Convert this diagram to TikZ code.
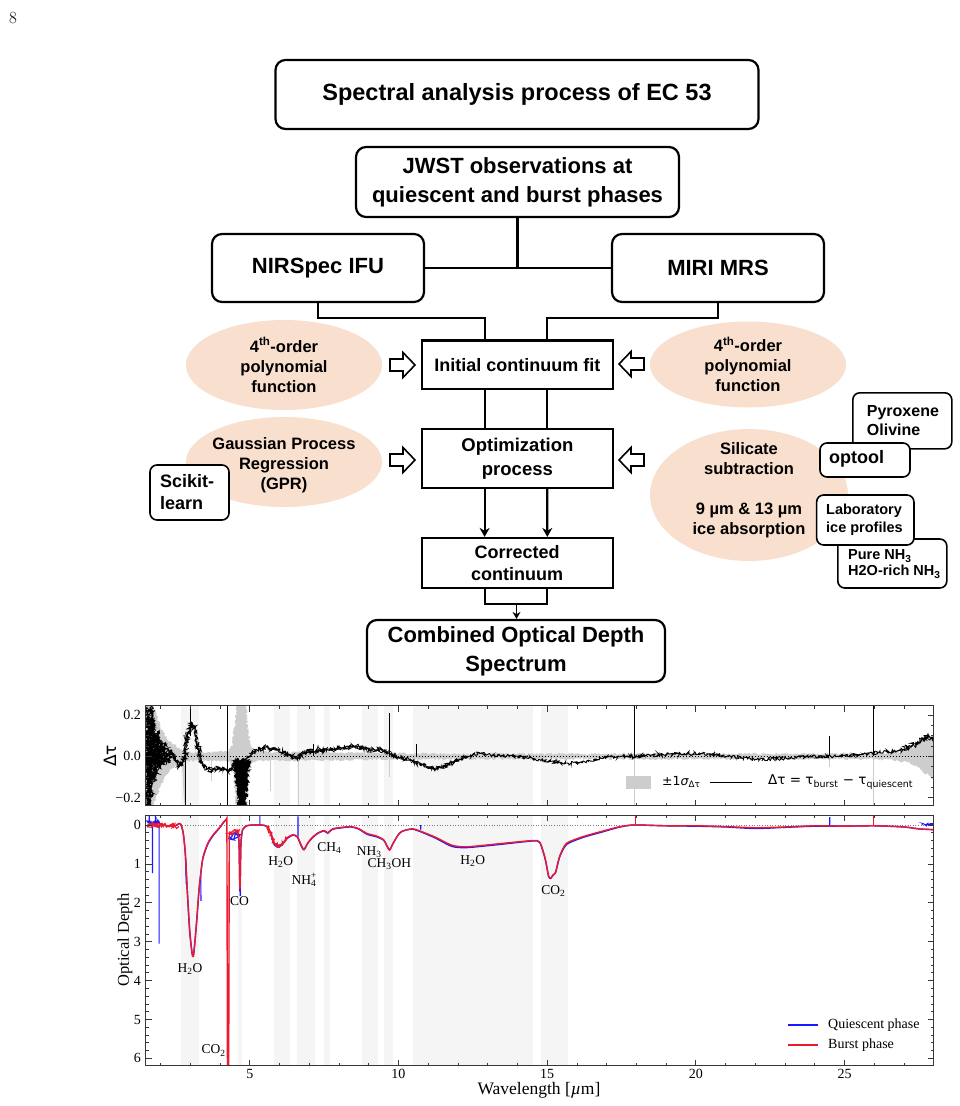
\documentclass[tikz,border=0pt]{standalone}
\usepackage{fontspec}
\newfontfamily\sfb{Liberation Sans}
\newfontfamily\tms{Liberation Serif}
\newfontfamily\dejavu{DejaVu Sans}
\usetikzlibrary{shapes.geometric,arrows.meta,decorations.pathmorphing,calc}
\newcommand\fcfont[2]{\sfb\bfseries\fontsize{#1}{#2}\selectfont}
\newcommand\tmfont[1]{\tms\fontsize{#1}{#1}\selectfont}
\definecolor{peach}{RGB}{249,223,205}
\definecolor{bandc}{RGB}{245,245,245}
\definecolor{sigc}{RGB}{205,205,205}
\definecolor{qblue}{RGB}{25,25,255}
\definecolor{bred}{RGB}{238,25,45}
\definecolor{axc}{RGB}{55,55,55}
\tikzset{
 rbox/.style={draw, line width=2.2pt, rounded corners=10pt, fill=white, align=center, inner sep=0pt, font=\fcfont{22}{29}},
 sbox/.style={draw, line width=2.2pt, fill=white, align=center, inner sep=0pt},
 ell/.style={ellipse, fill=peach, draw=none, inner sep=0pt},
 etext/.style={align=center, inner sep=0pt, font=\fcfont{16.5}{20}},
 minibox/.style={draw, line width=1.6pt, rounded corners=7pt, fill=white, inner sep=0pt},
 minitext/.style={align=left, anchor=west, inner sep=0pt},
 conn/.style={line width=2.2pt},
 arr/.style={line width=2.2pt, -{Stealth[length=9pt,width=10pt]}},
 harrow/.pic={\draw[line width=1.6pt, fill=white, line join=miter] (0,0) -- (-12,-12.5) -- (-12,-6) -- (-25,-6) -- (-25,6) -- (-12,6) -- (-12,12.5) -- cycle;},
 axframe/.style={draw=axc, line width=0.9pt},
 tk/.style={draw=axc, line width=0.8pt},
 ticklab/.style={font=\tmfont{14}, inner sep=0pt},
 ann/.style={font=\tmfont{13.5}, inner sep=0pt},
 noise/.style 2 args={decorate, decoration={random steps, segment length=#1, amplitude=#2}},
}
\begin{document}
\begin{tikzpicture}[x=1pt,y=-1pt]
\pgfmathsetseed{7}
\useasboundingbox (0,0) rectangle (959,1106);
\node[inner sep=0pt, font=\fontsize{17}{19}\selectfont] (pg) at (13,18) {8};

% ---------------- flowchart ----------------
\node[ell, minimum width=196, minimum height=90] (e1) at (284,365) {};
\node[etext] (e1t) at (e1.center) {4\textsuperscript{th}-order\\polynomial\\function};
\node[ell, minimum width=196, minimum height=90] (e2) at (284,462) {};
\node[etext] (e2t) at (284,465) {Gaussian Process\\Regression\\(GPR)};
\node[ell, minimum width=196, minimum height=86] (e3) at (748,364.5) {};
\node[etext] (e3t) at (e3.center) {4\textsuperscript{th}-order\\polynomial\\function};
\node[ell, minimum width=198, minimum height=132] (e4) at (749,495) {};
\node[etext] (e4t) at (749,490) {Silicate\\subtraction\\[20pt]9 µm \& 13 µm\\ice absorption};

\node[rbox, minimum width=483, minimum height=69, font=\fcfont{23.5}{29}] (title) at (517,94.5) {Spectral analysis process of EC 53};
\node[rbox, minimum width=323, minimum height=70] (jwst) at (517.5,182) {JWST observations at\\quiescent and burst phases};
\node[rbox, minimum width=212, minimum height=68] (nir) at (318,268) {NIRSpec IFU};
\node[rbox, minimum width=212, minimum height=68] (miri) at (718,268) {MIRI MRS};
\node[sbox, minimum width=191, minimum height=48.5, font=\fcfont{18}{22}] (init) at (517.4,364.8) {Initial continuum fit};
\node[sbox, minimum width=191, minimum height=59, font=\fcfont{18.5}{24}] (opt) at (517.4,458.5) {Optimization\\process};
\node[sbox, minimum width=191, minimum height=50, font=\fcfont{18}{22}] (corr) at (517.2,563) {Corrected\\continuum};
\node[rbox, minimum width=298, minimum height=62] (comb) at (516,651) {Combined Optical Depth\\Spectrum};

\draw[conn] (jwst.south) -- (jwst.south |- nir.east);
\draw[conn] (nir.east) -- (miri.west);
\draw[conn] (nir.south) -- ++(0,14.7) -| ([xshift=-32.8pt]init.north);
\draw[conn] (miri.south) -- ++(0,14.7) -| ([xshift=29.9pt]init.north);
\draw[conn] ([xshift=-32.8pt]init.south) -- ([xshift=-32.8pt]opt.north);
\draw[conn] ([xshift=29.9pt]init.south) -- ([xshift=29.9pt]opt.north);
\draw[arr] ([xshift=-32.8pt]opt.south) -- ([xshift=-32.6pt]corr.north);
\draw[arr] ([xshift=29.9pt]opt.south) -- ([xshift=30.1pt]corr.north);
\draw[conn] ([xshift=-32.6pt]corr.south) -- ++(0,15) -| ([xshift=30.1pt]corr.south);
\coordinate (cmid) at ($(corr.south)+(-0.7,15)$);
\draw[line width=1.6pt, -{Stealth[length=7pt,width=8pt]}] (cmid) -- (cmid |- comb.north);

\pic at (415,365) {harrow};
\pic at (415,460) {harrow};
\pic[rotate=180] at (619,364) {harrow};
\pic[rotate=180] at (619,460) {harrow};

\node[minibox, minimum width=79, minimum height=55] (sci) at (189.5,492.5) {};
\node[minitext, font=\fcfont{18}{22}] (scit) at (160,492.5) {Scikit-\\learn};
\node[minibox, minimum width=99, minimum height=56] (pyro) at (902.3,420.8) {};
\node[minitext, font=\fcfont{16}{19}] (pyrot) at (866.7,420.5) {Pyroxene\\Olivine};
\node[minibox, minimum width=90, minimum height=34] (opto) at (865,460) {};
\node[minitext, font=\fcfont{18}{22}] (optot) at (829,459) {optool};
\node[minibox, minimum width=109, minimum height=49] (pure) at (892.3,563.5) {};
\node[minitext, font=\fcfont{14.5}{16}] (puret) at (848,564) {Pure NH\textsubscript{3}\\H2O-rich NH\textsubscript{3}};
\node[minibox, minimum width=97.3, minimum height=50] (lab) at (865.3,520) {};
\node[minitext, font=\fcfont{14.5}{18}] (labt) at (826,520) {Laboratory\\ice profiles};

% ---------------- top panel: delta tau ----------------
\begin{scope}[shift={(101.09pt,-756.3pt)}, x={(29.74pt,0pt)}, y={(0pt,206.5pt)}]
 \clip (1.5,-0.239) rectangle (28.0,0.245);
 \foreach \a/\b in {2.7/3.3,4.6/4.73,5.8/6.36,6.6/7.2,7.5/7.7,8.77/9.3,9.5/9.8,10.48/14.51,14.78/15.71}
   \fill[bandc] (\a,-0.3) rectangle (\b,0.3);
 \fill[sigc, noise={1.2pt}{1.2pt}] (1.5,0.26) -- (1.7,0.26) -- (1.85,0.2) -- (2.0,0.14) -- (2.2,0.09) -- (2.4,0.06) -- (2.6,0.04) -- (2.8,0.025) -- (3.2,0.02) -- (3.8,0.02) -- (4.3,0.025) -- (4.42,0.06) -- (4.5,0.16) -- (4.58,0.27) -- (4.85,0.27) -- (4.93,0.15) -- (5.0,0.06) -- (5.1,0.03) -- (5.4,0.02) -- (7,0.02) -- (9,0.015) -- (12,0.012) -- (18,0.012) -- (24,0.012) -- (26.5,0.015) -- (27.2,0.03) -- (27.6,0.07) -- (28,0.11)
   -- (28,-0.11) -- (27.6,-0.07) -- (27.2,-0.03) -- (26.5,-0.015) -- (24,-0.012) -- (18,-0.012) -- (12,-0.012) -- (9,-0.015) -- (7,-0.02) -- (5.4,-0.02) -- (5.1,-0.03) -- (5.0,-0.06) -- (4.93,-0.15) -- (4.85,-0.27) -- (4.58,-0.27) -- (4.5,-0.16) -- (4.42,-0.06) -- (4.3,-0.025) -- (3.8,-0.02) -- (3.2,-0.02) -- (2.8,-0.025) -- (2.6,-0.04) -- (2.4,-0.06) -- (2.2,-0.09) -- (2.0,-0.14) -- (1.85,-0.2) -- (1.7,-0.26) -- (1.5,-0.26) -- cycle;
 \fill[sigc] (2.72,-0.02) -- (2.78,-0.2) -- (2.82,-0.24) -- (2.86,-0.02) -- cycle;
 \draw[sigc, line width=0.8pt] (6.62,0) -- (6.62,-0.24) (17.93,0) -- (17.93,-0.24) (25.97,0) -- (25.97,-0.24) (24.48,0) -- (24.48,-0.05) (9.68,0) -- (9.68,-0.1) (5.68,0) -- (5.68,-0.17) (3.7,0) -- (3.7,-0.12);
 \draw[black, line width=0.5pt, dash pattern=on 1.5pt off 1.5pt] (1.5,0) -- (28,0);
 % start noise
 \draw[black, line width=0.9pt, noise={0.8pt}{2pt}] (1.55,0.24) -- (1.57,-0.24) -- (1.6,0.2) -- (1.62,-0.24) -- (1.65,0.15) -- (1.68,-0.2) -- (1.7,0.24) -- (1.73,-0.1) -- (1.76,0.18) -- (1.8,-0.12) -- (1.83,0.1) -- (1.87,-0.08) -- (1.9,0.12) -- (1.94,-0.06) -- (1.97,0.08) -- (2.0,-0.05) -- (2.05,0.07) -- (2.1,-0.04) -- (2.15,0.06) -- (2.2,-0.03) -- (2.25,0.04) -- (2.3,-0.03) -- (2.35,0.03) -- (2.4,0.0);
 % main curve
 \draw[black, line width=0.9pt, noise={0.9pt}{1.7pt}] plot coordinates {(2.4,0.0) (2.5,-0.02) (2.6,-0.045) (2.7,-0.04) (2.8,-0.01) (2.9,0.08) (3.0,0.15) (3.08,0.16) (3.15,0.12) (3.25,0.04) (3.4,-0.03) (3.55,-0.06) (3.75,-0.065) (3.95,-0.055) (4.15,-0.065) (4.3,-0.07) (4.42,-0.05) (4.5,-0.03) (4.7,-0.02) (4.9,-0.01) (5.05,0.01) (5.25,0.03) (5.5,0.045) (5.8,0.035) (6.1,0.02) (6.4,0.0) (6.6,-0.01) (6.9,0.02) (7.3,0.03) (7.7,0.03) (8.1,0.04) (8.5,0.05) (8.9,0.035) (9.3,0.03) (9.6,0.02) (9.9,0.0) (10.4,-0.02) (10.8,-0.04) (11.2,-0.06) (11.5,-0.05) (11.9,-0.025) (12.3,0.0) (12.7,0.015) (13.2,0.005) (14.0,0.0) (14.7,-0.015) (15.2,-0.025) (15.6,-0.035) (16.1,-0.03) (16.9,-0.005) (17.8,0.0) (19.3,0.01) (20.2,0.015) (21.1,0.0) (22.0,-0.015) (23.1,-0.01) (23.9,0.0) (24.8,0.0) (25.5,0.01) (26.3,0.02) (26.9,0.03) (27.4,0.06) (27.8,0.1) (28.0,0.08)};
 \draw[black, line width=0.7pt, noise={0.8pt}{3pt}] plot coordinates {(2.4,0.0) (2.5,-0.02) (2.6,-0.045) (2.7,-0.04) (2.8,-0.01) (2.9,0.08) (3.0,0.15) (3.08,0.16) (3.15,0.12) (3.25,0.04) (3.4,-0.03) (3.55,-0.06) (3.75,-0.065) (3.95,-0.055) (4.15,-0.065) (4.3,-0.07) (4.42,-0.05)};
 \draw[black, line width=0.7pt, noise={0.8pt}{3pt}] plot coordinates {(5.05,0.01) (5.25,0.03) (5.5,0.045) (5.8,0.035) (6.1,0.02) (6.4,0.0) (6.6,-0.01) (6.9,0.02) (7.3,0.03) (7.7,0.03) (8.1,0.04) (8.5,0.05) (8.9,0.035) (9.3,0.03) (9.6,0.02)};
 \draw[black, line width=0.7pt, noise={0.8pt}{2.2pt}] plot coordinates {(9.6,0.02) (9.9,0.0) (10.4,-0.02) (10.8,-0.04) (11.2,-0.06) (11.5,-0.05) (11.9,-0.025) (12.3,0.0)};
 \draw[black, line width=0.7pt, noise={0.8pt}{3pt}] plot coordinates {(26.9,0.03) (27.4,0.06) (27.8,0.1) (28.0,0.08)};
 \fill[black, noise={1pt}{2pt}] (4.4,-0.02) -- (4.48,-0.08) -- (4.56,-0.17) -- (4.62,-0.26) -- (4.85,-0.26) -- (4.9,-0.18) -- (4.97,-0.09) -- (5.05,-0.02) -- (4.9,-0.01) -- (4.7,-0.02) -- (4.5,-0.01) -- cycle;
 \draw[black, line width=0.9pt] (4.26,-0.24) -- (4.26,0.245) (2.82,0) -- (2.82,-0.24) (2.99,0.245) -- (2.99,0.1) (9.68,0) -- (9.68,0.21) (17.93,0) -- (17.93,0.245) (25.97,0) -- (25.97,0.245);
 \draw[black, line width=0.6pt] (24.48,0) -- (24.48,0.1) (10.6,0) -- (10.6,0.06) (7.15,0) -- (7.15,0.06);
\end{scope}

% ---------------- lower panel: optical depth ----------------
\begin{scope}[shift={(101.09pt,-825pt)}, x={(29.74pt,0pt)}, y={(0pt,-38.9pt)}]
 \clip (1.5,-0.257) rectangle (28.0,6.19);
 \foreach \a/\b in {2.7/3.3,4.6/4.73,5.8/6.36,6.6/7.2,7.5/7.7,8.77/9.3,9.5/9.8,10.48/14.51,14.78/15.71}
   \fill[bandc] (\a,-0.3) rectangle (\b,6.3);
 \draw[gray, line width=0.6pt, dotted] (1.5,0) -- (28,0);
 % blue: quiescent
 \draw[qblue, line width=1.4pt, line join=round] plot[smooth, tension=0.4] coordinates {(1.55,0.05) (1.7,-0.03) (1.9,0.02) (2.1,0.0) (2.3,0.03) (2.5,0.02) (2.6,-0.03) (2.68,-0.02) (2.76,0.2) (2.83,0.72) (2.9,1.72) (2.98,2.75) (3.06,3.3) (3.1,3.38) (3.15,3.05) (3.22,2.42) (3.3,1.62) (3.42,0.87) (3.6,0.47) (3.8,0.24) (4.0,0.06) (4.12,-0.07) (4.2,-0.13)};
 \draw[qblue, line width=1.4pt, line join=round] plot[smooth, tension=0.4] coordinates {(4.31,0.2) (4.4,0.25) (4.5,0.2) (4.6,0.25) (4.64,0.5) (4.67,1.7) (4.7,0.5) (4.76,0.12) (4.9,0.02) (5.1,0.0) (5.4,0.0) (5.6,0.05) (5.72,0.28) (5.82,0.5) (5.95,0.57) (6.1,0.5) (6.25,0.35) (6.45,0.26) (6.6,0.31) (6.72,0.52) (6.82,0.64) (6.95,0.47) (7.1,0.33) (7.3,0.21) (7.5,0.15) (7.62,0.21) (7.78,0.11) (8.1,0.07) (8.4,0.05) (8.65,0.1) (8.95,0.24) (9.25,0.3) (9.5,0.39) (9.62,0.55) (9.7,0.64) (9.8,0.5) (9.95,0.3) (10.1,0.17) (10.5,0.11) (11.2,0.32) (11.8,0.55) (12.3,0.58) (13.4,0.5) (14.5,0.41) (14.75,0.45) (14.93,0.87) (15.05,1.33) (15.12,1.37) (15.2,1.29) (15.28,1.23) (15.42,0.82) (15.65,0.5) (16.2,0.32) (16.8,0.19) (17.4,0.06) (17.9,0.0) (19,0.02) (20,0.03) (21,0.05) (22,0.09) (23,0.06) (24,0.03) (25,0.03) (26,0.02) (27,0.05) (27.5,0.1) (28,0.12)};
 \draw[qblue, line width=1.1pt, noise={0.7pt}{3pt}] (1.55,-0.1) -- (2.0,-0.05);
 \draw[qblue, line width=1.1pt, noise={0.7pt}{3.5pt}] (4.33,0.3) -- (4.62,0.3);
 \draw[qblue, line width=0.9pt, noise={0.7pt}{2pt}] (27.6,0.0) -- (28,0.0);
 \draw[qblue, line width=1.1pt] (1.73,0) -- (1.73,1.24) (1.95,0) -- (1.95,3.05) (1.62,0) -- (1.62,-0.26) (1.83,0) -- (1.83,-0.26) (2.85,0.9) -- (2.86,1.52) (3.35,1.3) -- (3.36,1.95) (4.68,1.0) -- (4.68,1.82) (5.34,0) -- (5.34,-0.26) (6.62,0.3) -- (6.62,-0.22) (10.75,0.12) -- (10.75,0.0) (24.5,0.02) -- (24.5,-0.2);
 % red: burst
 \draw[bred, line width=1.4pt, line join=round] plot[smooth, tension=0.4] coordinates {(1.55,0.02) (1.7,-0.03) (1.9,0.02) (2.1,0.0) (2.3,0.03) (2.5,0.02) (2.6,-0.03) (2.68,-0.02) (2.76,0.2) (2.83,0.7) (2.9,1.7) (2.98,2.7) (3.06,3.3) (3.1,3.38) (3.15,3.05) (3.22,2.4) (3.3,1.6) (3.42,0.85) (3.6,0.45) (3.8,0.22) (4.0,0.05) (4.12,-0.08) (4.2,-0.14)};
 \draw[bred, line width=1.4pt] (4.2,-0.14) -- (4.23,-0.18) -- (4.25,6.4) (4.29,6.4) -- (4.31,0.2);
 \draw[bred, line width=1.4pt, line join=round] plot[smooth, tension=0.4] coordinates {(4.31,0.2) (4.4,0.18) (4.5,0.12) (4.6,0.2) (4.64,0.5) (4.67,1.65) (4.7,0.5) (4.76,0.12) (4.9,0.02) (5.1,0.0) (5.4,0.0) (5.6,0.04) (5.72,0.25) (5.82,0.47) (5.95,0.55) (6.1,0.48) (6.25,0.33) (6.45,0.25) (6.6,0.3) (6.72,0.5) (6.82,0.63) (6.95,0.46) (7.1,0.32) (7.3,0.2) (7.5,0.14) (7.62,0.2) (7.78,0.1) (8.1,0.06) (8.4,0.04) (8.65,0.09) (8.95,0.22) (9.25,0.28) (9.5,0.38) (9.62,0.55) (9.7,0.65) (9.8,0.5) (9.95,0.3) (10.1,0.17) (10.5,0.1) (11.2,0.3) (11.8,0.52) (12.3,0.56) (13.4,0.48) (14.5,0.4) (14.75,0.44) (14.93,0.85) (15.05,1.32) (15.12,1.36) (15.2,1.28) (15.28,1.22) (15.42,0.8) (15.65,0.47) (16.2,0.3) (16.8,0.17) (17.4,0.05) (17.9,0.0) (19,0.02) (20,0.02) (21,0.04) (22,0.07) (23,0.05) (24,0.02) (25,0.03) (26,0.02) (27,0.05) (27.5,0.1) (28,0.12)};
 \draw[bred, line width=1.1pt, noise={0.7pt}{2.6pt}] (1.55,0.0) -- (1.8,0.0) -- (2.1,0.02) -- (2.6,0.03);
 \draw[bred, line width=1.1pt, noise={0.7pt}{2.8pt}] (4.33,0.2) -- (4.62,0.2);
 \draw[bred, line width=1.1pt, noise={0.7pt}{1.6pt}] (5.6,0.04) -- (5.72,0.25) -- (5.82,0.47) -- (5.95,0.55) -- (6.1,0.48) -- (6.25,0.33);
 \draw[bred, line width=1.1pt] (17.98,0.0) -- (17.98,-0.26) (25.97,0.02) -- (25.97,-0.26);
\end{scope}

% ---------------- frames and ticks ----------------
\draw[axframe] (145.7,705.7) rectangle (933.8,805.7);
\draw[axframe] (145.7,815) rectangle (933.8,1065.7);
\foreach \l in {2,...,28}{
  \pgfmathsetmacro\xx{101.09+29.74*\l}
  \draw[tk] (\xx,805.7) -- ++(0,-3) (\xx,705.7) -- ++(0,3) (\xx,1065.7) -- ++(0,-3) (\xx,815) -- ++(0,3);
}
\foreach \l in {5,10,...,25}{
  \pgfmathsetmacro\xx{101.09+29.74*\l}
  \draw[tk] (\xx,805.7) -- ++(0,-6) (\xx,705.7) -- ++(0,6) (\xx,1065.7) -- ++(0,-6) (\xx,815) -- ++(0,6);
}
\foreach \i in {-4,...,4}{
  \pgfmathsetmacro\yy{756.3-206.5*0.05*\i}
  \draw[tk] (145.7,\yy) -- ++(3,0) (933.8,\yy) -- ++(-3,0);
}
\foreach \i in {-1,0,1}{
  \pgfmathsetmacro\yy{756.3-206.5*0.2*\i}
  \draw[tk] (145.7,\yy) -- ++(6,0) (933.8,\yy) -- ++(-6,0);
}
\foreach \i in {0,...,30}{
  \pgfmathsetmacro\yy{825+38.9*0.2*\i}
  \draw[tk] (145.7,\yy) -- ++(3,0) (933.8,\yy) -- ++(-3,0);
}
\foreach \i in {0,...,6}{
  \pgfmathsetmacro\yy{825+38.9*\i}
  \draw[tk] (145.7,\yy) -- ++(6,0) (933.8,\yy) -- ++(-6,0);
  \node[ticklab, anchor=east] (oy\i) at (141,\yy) {\i};
}
\node[ticklab, anchor=east] (ty1) at (141,715.0) {0.2};
\node[ticklab, anchor=east] (ty2) at (141,756.3) {0.0};
\node[ticklab, anchor=east] (ty3) at (141,797.6) {−0.2};
\foreach \l in {5,10,...,25}{
  \pgfmathsetmacro\xx{101.09+29.74*\l}
  \node[ticklab] (tx\l) at (\xx,1073.5) {\l};
}
\node[rotate=90, inner sep=0pt, font=\dejavu\fontsize{17}{17}\selectfont] (ylab1) at (110,756) {Δτ};
\node[rotate=90, inner sep=0pt, font=\tmfont{16.5}] (ylab2) at (125,940) {Optical Depth};
\node[inner sep=0pt, font=\tmfont{17.5}] (xlab) at (539,1090) {Wavelength [{\itshape µ}m]};

% legends
\fill[sigc] (626,775.5) rectangle (651,789);
\node[anchor=west, inner sep=0pt, font=\dejavu\fontsize{12.5}{14}\selectfont] (lg1t) at (662,782) {±1{\itshape σ}\textsubscript{Δτ}};
\coordinate (lg2a) at (710,782);
\coordinate (lg2b) at (752,782);
\draw[black, line width=1pt] (lg2a) -- (lg2b);
\node[anchor=west, inner sep=0pt, font=\dejavu\fontsize{13.5}{14}\selectfont] (lg2t) at (768,782) {Δτ = τ\textsubscript{burst} − τ\textsubscript{quiescent}};
\coordinate (lg3a) at (788,1025);
\coordinate (lg3b) at (818,1025);
\draw[qblue, line width=1.3pt] (lg3a) -- (lg3b);
\node[anchor=west, inner sep=0pt, font=\tmfont{14}] (lg3t) at (828,1025) {Quiescent phase};
\coordinate (lg4a) at (788,1045);
\coordinate (lg4b) at (818,1045);
\draw[bred, line width=1.3pt] (lg4a) -- (lg4b);
\node[anchor=west, inner sep=0pt, font=\tmfont{14}] (lg4t) at (828,1045) {Burst phase};

% annotations
\node[ann] (a1) at (190,969) {H\textsubscript{2}O};
\node[ann] (a2) at (213.5,1050.5) {CO\textsubscript{2}};
\node[ann] (a3) at (239.5,901) {CO};
\node[ann] (a4) at (280.7,862) {H\textsubscript{2}O};
\node[ann] (a5) at (304,880) {NH\rlap{\textsuperscript{+}}\textsubscript{4}};
\node[ann] (a6) at (329.3,847.7) {CH\textsubscript{4}};
\node[ann] (a7) at (369.3,851.7) {NH\textsubscript{3}};
\node[ann] (a8) at (389.3,864.3) {CH\textsubscript{3}OH};
\node[ann] (a9) at (472.7,861) {H\textsubscript{2}O};
\node[ann] (a10) at (553.3,890.7) {CO\textsubscript{2}};
\end{tikzpicture}
\end{document}
